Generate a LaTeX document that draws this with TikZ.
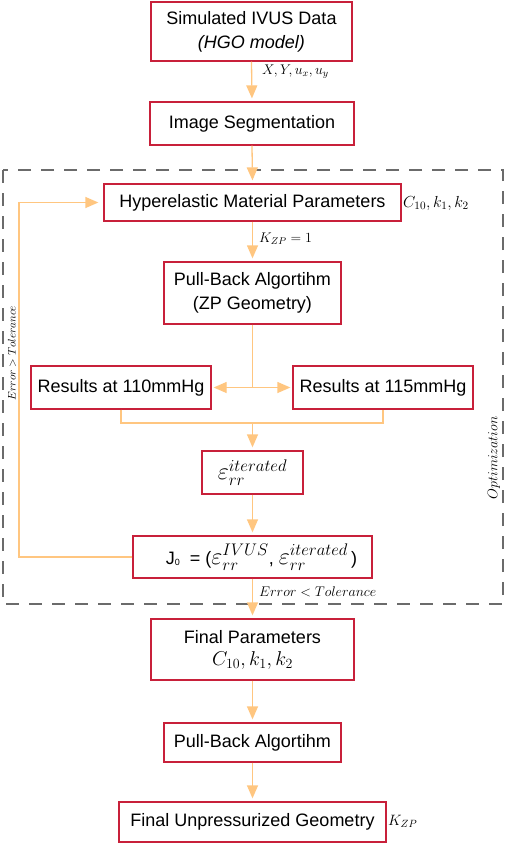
\documentclass[tikz,border=0pt]{standalone}
\usepackage{fix-cm}
\usepackage{fontspec}
\newfontfamily\arial{Liberation Sans}
\usetikzlibrary{arrows.meta}
\definecolor{boxred}{HTML}{C8203A}
\definecolor{peach}{HTML}{FFC680}
\definecolor{dgray}{HTML}{6B6B6B}
\tikzset{
  box/.style={draw=boxred, line width=1.3pt, fill=white, align=center, inner sep=2pt,
    font=\arial\fontsize{18}{24}\selectfont},
  flow/.style={draw=peach, line width=1.3pt},
  arr/.style={flow, -{Triangle[length=13pt,width=11pt]}, shorten >=3pt},
  lbl/.style={font=\fontsize{14}{16}\selectfont, inner sep=0pt, anchor=west},
  bigmath/.style={font=\fontsize{24}{28}\selectfont}
}
\begin{document}
\begin{tikzpicture}[x=1pt,y=-1pt]
\useasboundingbox (0,0) rectangle (505,843);
% optimization frame
\draw[dgray, line width=2.6pt, dash pattern=on 13pt off 10pt] (3,170) rectangle (503,604);
\node[font=\fontsize{11}{13}\selectfont, rotate=90, inner sep=0pt] (errgt) at (12,353) {$Error > Tolerance$};
\node[font=\fontsize{14}{16}\selectfont, rotate=90, inner sep=0pt] (opt) at (494,458) {$Optimization$};

% boxes
\node[box, minimum width=201pt, minimum height=59pt] (sim) at (251.5,31.5) {Simulated IVUS Data\\ \textit{(HGO model)}};
\node[box, minimum width=204pt, minimum height=43pt] (seg) at (252,123.5) {Image Segmentation};
\node[box, minimum width=297pt, minimum height=37pt] (hyp) at (252.5,202.5) {Hyperelastic Material Parameters};
\node[box, minimum width=177pt, minimum height=62pt] (pb1) at (252.5,293) {Pull-Back Algortihm\\(ZP Geometry)};
\node[box, minimum width=180pt, minimum height=43pt] (r110) at (121,387.5) {Results at 110mmHg};
\node[box, minimum width=180pt, minimum height=43pt] (r115) at (383,387.5) {Results at 115mmHg};
\node[box, minimum width=101pt, minimum height=43pt, bigmath] (eps) at (252.5,472.5) {$\varepsilon_{rr}^{iterated}$};
\node[box, minimum width=239pt, minimum height=42pt, bigmath] (jo) at (252.5,557)
  {\hspace{18pt}{\arial\fontsize{18}{20}\selectfont J\raisebox{-1pt}{\fontsize{9}{10}\selectfont 0}\ \ = (}$\varepsilon_{rr}^{IVUS}${\arial\fontsize{18}{20}\selectfont,\ }$\varepsilon_{rr}^{iterated}${\arial\fontsize{18}{20}\selectfont\,)}};
\node[box, minimum width=203pt, minimum height=61pt] (fpar) at (252.5,649.5) {Final Parameters\\[-2pt] {\fontsize{20}{22}\selectfont$C_{10},k_1,k_2$}};
\node[box, minimum width=177pt, minimum height=39pt] (pb2) at (252.5,742.5) {Pull-Back Algortihm};
\node[box, minimum width=267pt, minimum height=40pt] (fug) at (252.5,822) {Final Unpressurized Geometry};

% labels
\node[lbl] (lxy) at (262,72) {$X,Y,u_x,u_y$};
\node[lbl, font=\fontsize{16}{18}\selectfont] (lc) at (403,203) {$C_{10},k_1,k_2$};
\node[lbl] (lk) at (259,239) {$K_{ZP}=1$};
\node[lbl] (lerr) at (259,592) {$Error < Tolerance$};
\node[lbl, font=\fontsize{15}{17}\selectfont] (lkzp) at (388,821) {$K_{ZP}$};

% connectors
\draw[arr] (sim.south) -- (seg.north);
\draw[arr] (seg.south) -- (hyp.north);
\draw[arr] (hyp.south) -- (pb1.north);
\coordinate (split) at (pb1.south |- r110.east);
\draw[flow] (pb1.south) -- (split);
\draw[arr, shorten >=2pt] (split) -- (r110.east);
\draw[arr, shorten >=2pt] (split) -- (r115.west);
\coordinate (mL) at (121,423);
\coordinate (mR) at (383,423);
\coordinate (mC) at (eps.north |- mL);
\draw[flow] (r110.south) -- (mL) -- (mR) -- (r115.south);
\draw[arr] (mC) -- (eps.north);
\draw[arr] (eps.south) -- (jo.north);
\coordinate (fbB) at (19,557);
\coordinate (fbT) at (19,202.5);
\draw[arr, shorten >=5pt] (jo.west) -- (fbB) -- (fbT) -- (hyp.west);
\draw[arr] (jo.south) -- (fpar.north);
\draw[arr] (fpar.south) -- (pb2.north);
\draw[arr] (pb2.south) -- (fug.north);
\end{tikzpicture}
\end{document}
